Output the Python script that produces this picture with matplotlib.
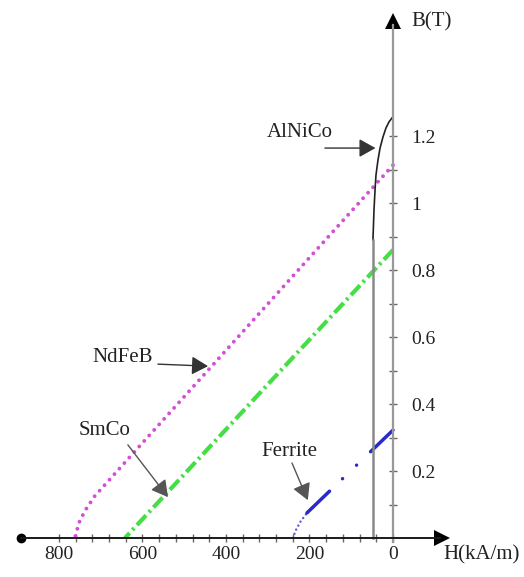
import matplotlib.pyplot as plt
import numpy as np

# demagnetisation curves, H in kA/m (magnitude, axis runs right to left), B in T
ndfeb_h = [0, 200, 400, 600, 700, 714, 722, 738, 752, 762]
ndfeb_b = [1.113, 0.837, 0.560, 0.284, 0.145, 0.126, 0.111, 0.081, 0.046, 0.0]

smco_h = [0, 642]
smco_b = [0.86, 0.0]

ferrite_h = [206, 0]
ferrite_b = [0.075, 0.322]
ferrite_knee_h = [240, 232, 222, 206]
ferrite_knee_b = [0.0, 0.025, 0.048, 0.075]

alnico_h = [0, 2.4, 9.6, 16.8, 24, 31, 36, 40.7, 43, 45.5, 48]
alnico_b = [1.258, 1.254, 1.242, 1.224, 1.197, 1.164, 1.128, 1.084, 1.039, 0.979, 0.89]
alnico_tail_h = [48, 48]
alnico_tail_b = [0.89, 0.0]

x_major = [0, 200, 400, 600, 800]
x_labels = ['0', '200', '400', '600', '800']
y_major = [0.2, 0.4, 0.6, 0.8, 1.0, 1.2]
y_labels = ['0.2', '0.4', '0.6', '0.8', '1', '1.2']

plt.rcParams['font.family'] = ['Liberation Serif', 'DejaVu Serif']
txt = '#222222'

fig = plt.figure(figsize=(5.24, 5.77), dpi=100)
ax = fig.add_axes([0, 0, 1, 1])
ax.set_xlim(941.3, -313.8)
ax.set_ylim(-0.1164, 1.606)

# axes through the origin
for s in ['top', 'left']:
    ax.spines[s].set_visible(False)
ax.spines['bottom'].set_position(('data', 0))
ax.spines['right'].set_position(('data', 0))
ax.spines['bottom'].set_bounds(-112, 891)
ax.spines['right'].set_bounds(-0.012, 1.53)
ax.spines['bottom'].set_color('#1a1a1a')
ax.spines['bottom'].set_linewidth(1.4)
ax.spines['right'].set_color('#999999')
ax.spines['right'].set_linewidth(1.6)
ax.plot([891], [0], 'o', color='black', ms=6, clip_on=False)
ax.plot([-117], [0], '>', color='black', ms=11, mew=0)
ax.plot([0], [1.542], '^', color='black', ms=11, mew=0)

ax.xaxis.set_ticks_position('bottom')
ax.yaxis.set_ticks_position('right')
ax.set_xticks(x_major, x_labels)
ax.set_xticks(np.arange(0, 801, 40), minor=True)
ax.set_yticks(y_major, y_labels)
ax.set_yticks(np.arange(0.1, 1.21, 0.1), minor=True)
ax.tick_params(axis='both', which='both', direction='inout', length=6,
               width=1, color='#666666', labelcolor=txt)
ax.tick_params(axis='x', which='major', labelsize=14, pad=3)
ax.tick_params(axis='y', which='major', labelsize=14, pad=10)

# curves
ax.plot(ndfeb_h, ndfeb_b, color='#d24fd6', lw=2.8, linestyle=(0, (0.01, 1.9)),
        dash_capstyle='round')
ax.plot(smco_h, smco_b, color='#45de45', lw=3, linestyle=(0, (3.2, 1.0, 0.6, 1.0)))
ax.plot(ferrite_knee_h, ferrite_knee_b, color='#6a5acd', lw=1.8,
        linestyle=(0, (0.01, 1.8)), dash_capstyle='round')
ax.plot(ferrite_h, ferrite_b, color='#2a2ac8', lw=2.5,
        linestyle=(0, (9, 5.2, 0.01, 5.6, 0.01, 5.6)), dash_capstyle='round')
ax.plot(alnico_h, alnico_b, color='#222222', lw=1.2)
ax.plot(alnico_tail_h, alnico_tail_b, color='#8a8a8a', lw=1.8)

# labels with arrows
arrow = dict(arrowstyle='-|>,head_length=0.5,head_width=0.28', color='#333333',
             lw=1, mutation_scale=20, shrinkA=0, shrinkB=0)
ax.text(223, 1.209, 'AlNiCo', fontsize=15, color=txt, ha='center', va='center')
ax.annotate('', xy=(42, 1.164), xytext=(163, 1.164), arrowprops=arrow)
ax.text(647, 0.540, 'NdFeB', fontsize=15, color=txt, ha='center', va='center')
ax.annotate('', xy=(443, 0.513), xytext=(563, 0.519), arrowprops=arrow)
ax.text(692, 0.322, 'SmCo', fontsize=15, color=txt, ha='center', va='center')
ax.annotate('', xy=(539, 0.122), xytext=(635, 0.278),
            arrowprops=dict(arrow, color='#555555'))
ax.text(247, 0.257, 'Ferrite', fontsize=15, color=txt, ha='center', va='center')
ax.annotate('', xy=(204, 0.113), xytext=(242, 0.224),
            arrowprops=dict(arrow, color='#555555'))

ax.text(-45, 1.540, 'B(T)', fontsize=15, color=txt, ha='left', va='center')
ax.text(-120, -0.051, 'H(kA/m)', fontsize=15, color=txt, ha='left', va='center')

fig.savefig('out.png', dpi=100)
